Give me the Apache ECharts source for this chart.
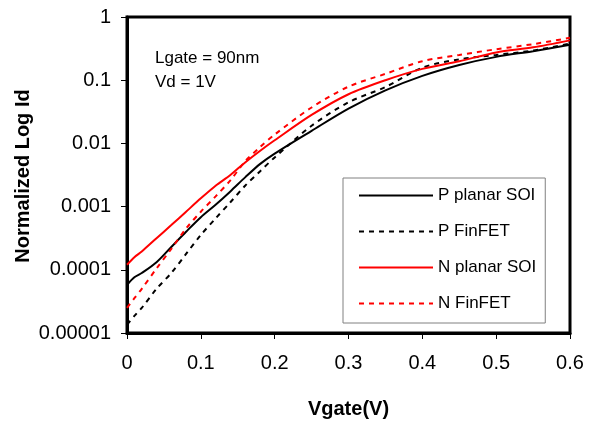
<!DOCTYPE html>
<html>
<head>
<meta charset="utf-8">
<script src="https://cdn.jsdelivr.net/npm/echarts@6/dist/echarts.min.js"></script>
<style>html,body{margin:0;padding:0;background:#fff}#c{width:595px;height:425px}</style>
</head>
<body>
<div id="c"></div>
<script>
const vgate = [0, 0.01, 0.02, 0.04, 0.06, 0.08, 0.10, 0.12, 0.14, 0.16, 0.18, 0.20, 0.25, 0.30, 0.35, 0.40, 0.45, 0.50, 0.55, 0.60];
const pPlanarSOI = [5.75e-5, 7.6e-5, 8.9e-5, 1.32e-4, 2.3e-4, 4.0e-4, 6.8e-4, 1.07e-3, 1.74e-3, 2.9e-3, 4.7e-3, 6.9e-3, 0.0158, 0.0355, 0.069, 0.117, 0.174, 0.234, 0.288, 0.363];
const pFinFET = [1.35e-5, 1.86e-5, 2.5e-5, 5.0e-5, 8.9e-5, 1.78e-4, 3.55e-4, 6.5e-4, 1.17e-3, 2.14e-3, 3.6e-3, 6.0e-3, 0.019, 0.0447, 0.078, 0.158, 0.214, 0.251, 0.295, 0.38];
const nPlanarSOI = [1.2e-4, 1.58e-4, 1.95e-4, 3.16e-4, 5.1e-4, 8.3e-4, 1.35e-3, 2.14e-3, 3.16e-3, 5.0e-3, 7.6e-3, 0.0112, 0.0282, 0.060, 0.100, 0.151, 0.2, 0.275, 0.331, 0.427];
const nFinFET = [2.5e-5, 3.55e-5, 5.0e-5, 1.05e-4, 2.14e-4, 4.5e-4, 8.3e-4, 1.45e-3, 2.6e-3, 5.2e-3, 8.7e-3, 0.0138, 0.037, 0.079, 0.126, 0.2, 0.251, 0.309, 0.372, 0.468];
const yTickLabels = ['0.00001', '0.0001', '0.001', '0.01', '0.1', '1'];
const xTickLabels = ['0', '0.1', '0.2', '0.3', '0.4', '0.5', '0.6'];
const seriesNames = ['P planar SOI', 'P FinFET', 'N planar SOI', 'N FinFET'];
const annotation = ['Lgate = 90nm', 'Vd = 1V'];
const yTitle = 'Normalized Log Id';

const F = 'Arial, "Liberation Sans", sans-serif';
const chart = echarts.init(document.getElementById('c'), null, {renderer: 'canvas'});
function mk(name, vals, color, dashed) {
  return {
    name: name, type: 'line', symbol: 'none', smooth: 0.3,
    data: vgate.map((x, i) => [x, vals[i]]),
    lineStyle: {color: color, width: 2, type: dashed ? [5, 5] : 'solid'},
    itemStyle: {color: color},
    z: 3
  };
}
chart.setOption({
  animation: false,
  backgroundColor: '#fff',
  grid: {left: 127, right: 25, top: 17, bottom: 92, show: true, borderColor: '#000', borderWidth: 3, backgroundColor: 'transparent'},
  xAxis: {
    type: 'value', min: 0, max: 0.6, interval: 0.1,
    name: 'Vgate(V)', nameLocation: 'middle', nameGap: 66,
    nameTextStyle: {fontFamily: F, fontSize: 20, fontWeight: 'bold', color: '#000'},
    axisLine: {show: true, lineStyle: {color: '#000', width: 3}},
    axisTick: {show: true, length: 6, lineStyle: {color: '#000', width: 1}},
    axisLabel: {fontFamily: F, fontSize: 20, color: '#000', margin: 20,
      formatter: v => xTickLabels[Math.round(v * 10)]},
    splitLine: {show: false}
  },
  yAxis: {
    type: 'log', logBase: 10, min: 1e-5, max: 1,
    axisLine: {show: true, lineStyle: {color: '#000', width: 3}},
    axisTick: {show: true, length: 6, lineStyle: {color: '#000', width: 1}},
    axisLabel: {fontFamily: F, fontSize: 20, color: '#000', margin: 16,
      formatter: v => yTickLabels[Math.round(Math.log10(v)) + 5]},
    splitLine: {show: false}
  },
  legend: {
    orient: 'vertical', left: 343, top: 178,
    width: 190,
    padding: [9, 9, 11, 15],
    itemGap: 19, itemWidth: 74, itemHeight: 14,
    borderColor: '#808080', borderWidth: 1, backgroundColor: '#fff',
    itemStyle: {opacity: 0},
    textStyle: {fontFamily: F, fontSize: 17, color: '#000', padding: [0, 0, 0, 0]},
    data: seriesNames
  },
  graphic: [
    {type: 'text', left: 155, top: 50, style: {text: annotation[0], font: '17px ' + F, fill: '#000'}},
    {type: 'text', left: 155, top: 74, style: {text: annotation[1], font: '17px ' + F, fill: '#000'}},
    {type: 'text', x: 23, y: 176, rotation: Math.PI / 2,
      style: {text: yTitle, font: 'bold 20px ' + F, fill: '#000', align: 'center', verticalAlign: 'middle'}}
  ],
  series: [
    mk(seriesNames[0], pPlanarSOI, '#000', false),
    mk(seriesNames[1], pFinFET, '#000', true),
    mk(seriesNames[2], nPlanarSOI, '#ff0000', false),
    mk(seriesNames[3], nFinFET, '#ff0000', true)
  ]
});
</script>
</body>
</html>
